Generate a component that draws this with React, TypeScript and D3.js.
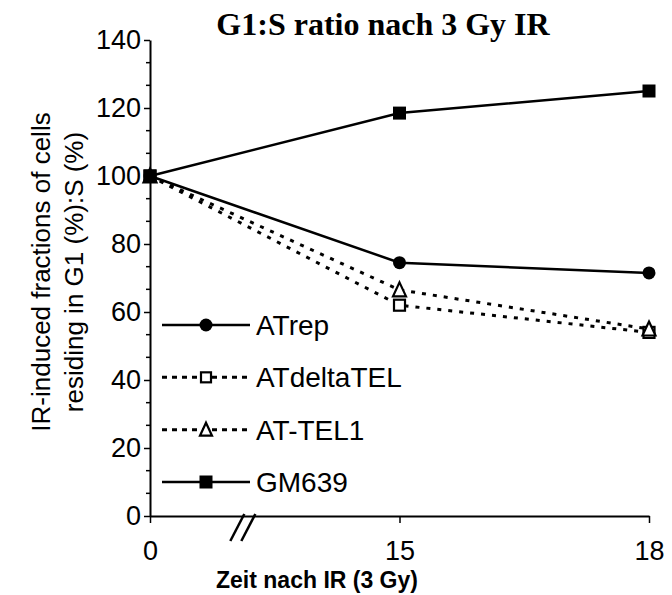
import React, { useRef, useEffect } from 'react';
import * as d3 from 'd3';

const categories = ['0', '15', '18'];
const seriesNames = ['ATrep', 'ATdeltaTEL', 'AT-TEL1', 'GM639'];
const atrepValues = [100, 74.5, 71.5];
const atdeltaValues = [100, 62, 54];
const attel1Values = [100, 66.5, 55];
const gm639Values = [100, 118.5, 125];
const yTicks = [0, 20, 40, 60, 80, 100, 120, 140];

type Marker = 'circle' | 'openSquare' | 'openTriangle' | 'square';

interface Series {
  name: string;
  values: number[];
  dashed: boolean;
  marker: Marker;
}

function drawMarker(
  g: d3.Selection<SVGGElement, unknown, null, undefined>,
  marker: Marker,
  cx: number,
  cy: number,
  size: number
) {
  const h = size / 2;
  if (marker === 'circle') {
    g.append('circle').attr('cx', cx).attr('cy', cy).attr('r', h).attr('fill', '#000');
  } else if (marker === 'square') {
    g.append('rect')
      .attr('x', cx - h)
      .attr('y', cy - h)
      .attr('width', size)
      .attr('height', size)
      .attr('fill', '#000');
  } else if (marker === 'openSquare') {
    g.append('rect')
      .attr('x', cx - h + 1)
      .attr('y', cy - h + 1)
      .attr('width', size - 2)
      .attr('height', size - 2)
      .attr('fill', '#fff')
      .attr('stroke', '#000')
      .attr('stroke-width', 2.2);
  } else {
    g.append('path')
      .attr('d', `M${cx},${cy - h - 1}L${cx + h},${cy + h}L${cx - h},${cy + h}Z`)
      .attr('fill', '#fff')
      .attr('stroke', '#000')
      .attr('stroke-width', 2.2)
      .attr('stroke-linejoin', 'miter');
  }
}

function drawChart(svgEle: SVGSVGElement) {
  const svg = d3.select(svgEle);
  svg.selectAll('*').remove();

  const x = d3.scalePoint<string>().domain(categories).range([150, 649]);
  const y = d3.scaleLinear().domain([0, 140]).range([516, 40]);

  const series: Series[] = [
    { name: seriesNames[0], values: atrepValues, dashed: false, marker: 'circle' },
    { name: seriesNames[1], values: atdeltaValues, dashed: true, marker: 'openSquare' },
    { name: seriesNames[2], values: attel1Values, dashed: true, marker: 'openTriangle' },
    { name: seriesNames[3], values: gm639Values, dashed: false, marker: 'square' }
  ];

  // 标题
  svg
    .append('text')
    .attr('x', 383)
    .attr('y', 35)
    .attr('text-anchor', 'middle')
    .attr('font-family', '"Liberation Serif", "Times New Roman", serif')
    .attr('font-weight', 'bold')
    .attr('font-size', 32)
    .text('G1:S ratio nach 3 Gy IR');

  // y 轴
  const yAxis = svg
    .append('g')
    .attr('transform', 'translate(150,0)')
    .call(d3.axisLeft(y).tickValues(yTicks).tickSize(6).tickSizeOuter(0).tickPadding(3));
  yAxis.select('.domain').attr('stroke-width', 2);
  yAxis.selectAll('.tick line').attr('stroke-width', 1.5);
  yAxis
    .selectAll('.tick text')
    .attr('font-family', '"Liberation Sans", Arial, sans-serif')
    .attr('font-size', 27)
    .attr('fill', '#000');
  // 小刻度
  const minorTicks = d3.range(0, 140, 20 / 3).filter((v) => Math.abs(v % 20) > 0.01 && Math.abs((v % 20) - 20) > 0.01);
  svg
    .append('g')
    .selectAll('line')
    .data(minorTicks)
    .enter()
    .append('line')
    .attr('x1', 146)
    .attr('x2', 150)
    .attr('y1', (d) => y(d))
    .attr('y2', (d) => y(d))
    .attr('stroke', '#000')
    .attr('stroke-width', 1.5);

  // x 轴
  const xAxis = svg
    .append('g')
    .attr('transform', `translate(0,${y(0)})`)
    .call(d3.axisBottom(x).tickSize(7).tickSizeOuter(0).tickPadding(18));
  xAxis.select('.domain').attr('stroke-width', 2);
  xAxis.selectAll('.tick line').attr('stroke-width', 1.5);
  xAxis
    .selectAll('.tick text')
    .attr('font-family', '"Liberation Sans", Arial, sans-serif')
    .attr('font-size', 27)
    .attr('fill', '#000');

  // 断轴标记
  const bx = x('0')! + (x('15')! - x('0')!) * 0.37;
  [0, 11].forEach((off) => {
    svg
      .append('line')
      .attr('x1', bx + off - 12)
      .attr('y1', y(0) + 25)
      .attr('x2', bx + off + 2)
      .attr('y2', y(0) - 2)
      .attr('stroke', '#000')
      .attr('stroke-width', 2.5);
  });

  // x 轴标题
  svg
    .append('text')
    .attr('x', 317)
    .attr('y', 588)
    .attr('text-anchor', 'middle')
    .attr('font-family', '"Liberation Sans", Arial, sans-serif')
    .attr('font-weight', 'bold')
    .attr('font-size', 23)
    .text('Zeit nach IR (3 Gy)');

  // y 轴标题
  const yTitle = svg
    .append('text')
    .attr('transform', 'translate(0,272) rotate(-90)')
    .attr('text-anchor', 'middle')
    .attr('font-family', '"Liberation Sans", Arial, sans-serif')
    .attr('font-size', 26);
  yTitle.append('tspan').attr('x', 0).attr('y', 50).text('IR-induced fractions of cells');
  yTitle.append('tspan').attr('x', 0).attr('y', 83).text('residing in G1 (%):S (%)');

  // 折线
  const line = d3
    .line<number>()
    .x((_, i) => x(categories[i])!)
    .y((d) => y(d));
  const drawOrder = [series[1], series[2], series[0], series[3]];
  for (const s of drawOrder) {
    svg
      .append('path')
      .datum(s.values)
      .attr('d', line)
      .attr('fill', 'none')
      .attr('stroke', '#000')
      .attr('stroke-width', s.dashed ? 3 : 2.5)
      .attr('stroke-dasharray', s.dashed ? '4,7' : null);
  }
  const markers = svg.append('g');
  for (const s of drawOrder) {
    s.values.forEach((v, i) => drawMarker(markers, s.marker, x(categories[i])!, y(v), 13));
  }

  // 图例
  const legendY = d3.scalePoint<string>().domain(seriesNames).range([325, 482]);
  const legend = svg.append('g').attr('font-family', '"Liberation Sans", Arial, sans-serif');
  for (const s of series) {
    const ly = legendY(s.name)!;
    legend
      .append('line')
      .attr('x1', 162)
      .attr('x2', 250)
      .attr('y1', ly)
      .attr('y2', ly)
      .attr('stroke', '#000')
      .attr('stroke-width', s.dashed ? 3 : 2.5)
      .attr('stroke-dasharray', s.dashed ? '5,5' : null);
    const lg = legend.append('g');
    drawMarker(lg, s.marker, 206, ly, s.dashed ? 12 : 13);
    legend
      .append('text')
      .attr('x', 256)
      .attr('y', ly + 10)
      .attr('font-size', 28)
      .text(s.name);
  }
}

export default function App(): JSX.Element {
  const svgRef = useRef<SVGSVGElement>(null);

  useEffect(() => {
    document.body.style.margin = '0';
    const svgEle = svgRef.current;
    if (svgEle == null) {
      return;
    }
    drawChart(svgEle);
  }, []);

  return <svg ref={svgRef} width={672} height={595} style={{ display: 'block', background: '#fff' }} />;
}
